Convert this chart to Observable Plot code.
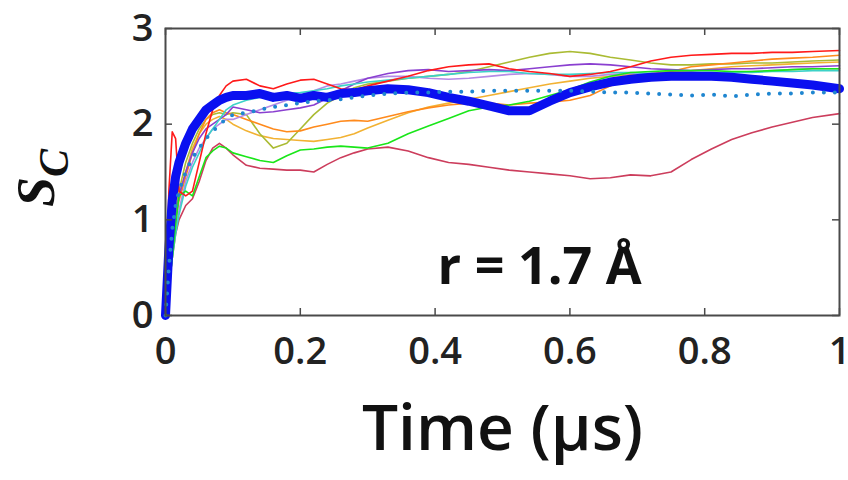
<!DOCTYPE html>
<html><head><meta charset="utf-8">
<script src="https://cdn.jsdelivr.net/npm/d3@7"></script>
<script src="https://cdn.jsdelivr.net/npm/@observablehq/plot@0.6"></script>
<style>body{margin:0;background:#fff;}</style>
</head><body><div id="chart"></div>
<script>
const time = [0,0.005,0.01,0.015,0.02,0.03,0.04,0.05,0.06,0.07,0.08,0.09,0.1,0.12,0.14,0.16,0.18,0.2,0.22,0.24,0.26,0.28,0.3,0.33,0.36,0.39,0.42,0.45,0.48,0.51,0.54,0.57,0.6,0.63,0.66,0.69,0.72,0.75,0.78,0.81,0.84,0.87,0.9,0.93,0.96,1.0];

const redRun      = [0,1.3,1.92,1.85,1.3,1.25,1.3,1.6,1.9,2.15,2.3,2.4,2.45,2.47,2.4,2.37,2.42,2.46,2.47,2.42,2.37,2.36,2.4,2.45,2.5,2.56,2.6,2.62,2.63,2.58,2.55,2.53,2.5,2.52,2.55,2.6,2.66,2.7,2.72,2.73,2.74,2.74,2.75,2.75,2.76,2.77];
const orangeRun   = [0,0.4,0.8,1.0,1.2,1.45,1.7,1.9,2.05,2.12,2.15,2.12,2.1,2.05,2.0,1.95,1.92,1.93,1.97,2.0,2.03,2.04,2.03,2.08,2.13,2.17,2.2,2.22,2.22,2.2,2.22,2.23,2.25,2.3,2.4,2.48,2.52,2.55,2.6,2.62,2.64,2.66,2.68,2.69,2.7,2.72];
const goldRun     = [0,0.4,0.8,1.05,1.25,1.5,1.75,1.9,2.0,2.05,2.08,2.05,2.0,1.93,1.88,1.85,1.84,1.83,1.82,1.84,1.86,1.9,1.96,2.04,2.12,2.18,2.22,2.26,2.3,2.34,2.38,2.42,2.45,2.48,2.5,2.52,2.53,2.55,2.56,2.58,2.6,2.61,2.62,2.63,2.64,2.65];
const oliveRun    = [0,0.4,0.8,1.1,1.3,1.6,1.8,1.95,2.05,2.1,2.12,2.1,2.12,2.1,1.9,1.75,1.8,1.95,2.1,2.22,2.3,2.38,2.42,2.45,2.48,2.5,2.52,2.55,2.6,2.65,2.7,2.74,2.76,2.74,2.7,2.67,2.64,2.62,2.62,2.63,2.63,2.64,2.64,2.65,2.66,2.67];
const greenRun    = [0,0.3,0.6,0.95,1.25,1.3,1.25,1.45,1.65,1.72,1.77,1.75,1.7,1.66,1.62,1.6,1.67,1.73,1.74,1.76,1.77,1.76,1.75,1.8,1.9,1.98,2.06,2.14,2.18,2.2,2.24,2.3,2.36,2.44,2.5,2.54,2.55,2.56,2.56,2.56,2.55,2.55,2.56,2.57,2.58,2.58];
const cyanRun     = [0,0.3,0.6,0.85,1.05,1.35,1.55,1.7,1.85,1.95,2.05,2.15,2.2,2.25,2.28,2.3,2.32,2.33,2.35,2.37,2.4,2.42,2.44,2.46,2.48,2.5,2.52,2.54,2.55,2.55,2.53,2.52,2.52,2.53,2.54,2.54,2.53,2.52,2.52,2.53,2.54,2.54,2.55,2.55,2.56,2.56];
const purpleRun   = [0,0.3,0.7,1.0,1.25,1.5,1.7,1.85,1.95,2.0,2.05,2.1,2.18,2.15,2.12,2.13,2.15,2.17,2.2,2.27,2.35,2.42,2.48,2.53,2.56,2.57,2.55,2.56,2.57,2.56,2.58,2.6,2.62,2.63,2.62,2.6,2.58,2.57,2.56,2.57,2.58,2.58,2.59,2.6,2.6,2.61];
const lavenderRun = [0,0.3,0.6,0.9,1.1,1.4,1.6,1.75,1.85,1.95,2.0,2.05,2.05,2.1,2.15,2.2,2.25,2.3,2.35,2.4,2.42,2.45,2.48,2.5,2.5,2.48,2.47,2.48,2.5,2.52,2.53,2.52,2.5,2.5,2.52,2.53,2.53,2.52,2.52,2.53,2.54,2.55,2.56,2.57,2.58,2.58];
const crimsonRun  = [0,0.3,0.6,0.85,1.0,1.15,1.22,1.4,1.62,1.75,1.8,1.75,1.68,1.57,1.54,1.53,1.52,1.52,1.5,1.58,1.65,1.7,1.74,1.76,1.72,1.65,1.6,1.58,1.55,1.52,1.5,1.48,1.46,1.43,1.44,1.47,1.46,1.5,1.63,1.74,1.84,1.91,1.97,2.02,2.07,2.11];
const meanDotted  = [0,0.5,0.9,1.15,1.3,1.5,1.65,1.75,1.85,1.92,2.0,2.05,2.1,2.12,2.15,2.18,2.2,2.22,2.24,2.25,2.26,2.28,2.3,2.32,2.33,2.33,2.34,2.34,2.35,2.35,2.35,2.35,2.35,2.34,2.33,2.33,2.32,2.31,2.3,2.31,2.29,2.31,2.32,2.32,2.33,2.33];
const blueThick   = [0,0.7,1.2,1.45,1.6,1.8,1.95,2.05,2.15,2.2,2.25,2.28,2.3,2.3,2.32,2.28,2.3,2.27,2.3,2.28,2.32,2.33,2.35,2.37,2.36,2.33,2.28,2.24,2.19,2.14,2.14,2.24,2.33,2.39,2.44,2.47,2.49,2.5,2.5,2.5,2.49,2.47,2.45,2.43,2.41,2.37];

const xTicks = [0,0.2,0.4,0.6,0.8,1];
const yTicks = [0,1,2,3];
const annotation = [{label: "r = 1.7 Å", t: 0.555, s: 0.5}];

const thin = [
  {values: crimsonRun, color: "#cc3d5c"},
  {values: goldRun, color: "#f2b233"},
  {values: oliveRun, color: "#aabb33"},
  {values: orangeRun, color: "#ff8a1c"},
  {values: lavenderRun, color: "#b58ae6"},
  {values: purpleRun, color: "#8a3fd0"},
  {values: cyanRun, color: "#3cd2c8"},
  {values: greenRun, color: "#19e619"},
  {values: redRun, color: "#ff1a1a"}
];
const toRows = v => time.map((t, i) => ({t, s: v[i]}));

const W = 848, H = 480, mL = 165, mR = 9, mT = 28, mB = 165;
const innerW = W - mL - mR, innerH = H - mT - mB;
const tickLen = 7;

const marks = [];
for (const s of thin) {
  marks.push(Plot.line(toRows(s.values), {x: "t", y: "s", stroke: s.color, strokeWidth: 1.6}));
}
marks.push(Plot.line(toRows(blueThick), {x: "t", y: "s", stroke: "#0a10f0", strokeWidth: 9, strokeLinejoin: "round", strokeLinecap: "round"}));
marks.push(Plot.line(toRows(meanDotted), {x: "t", y: "s", stroke: "#1f86d0", strokeWidth: 4, strokeDasharray: "0,11", strokeLinecap: "round"}));
marks.push(Plot.frame({stroke: "#4a4a4a", strokeWidth: 2}));
marks.push(Plot.ruleX(xTicks, {x: d => d, insetTop: innerH - tickLen, stroke: "#4a4a4a", strokeWidth: 1.5}));
marks.push(Plot.ruleX(xTicks, {x: d => d, insetBottom: innerH - tickLen, stroke: "#4a4a4a", strokeWidth: 1.5}));
marks.push(Plot.ruleY(yTicks, {y: d => d, insetRight: innerW - tickLen, stroke: "#4a4a4a", strokeWidth: 1.5}));
marks.push(Plot.ruleY(yTicks, {y: d => d, insetLeft: innerW - tickLen, stroke: "#4a4a4a", strokeWidth: 1.5}));
marks.push(Plot.axisX({ticks: xTicks, tickSize: 0, tickPadding: 22, tickFormat: d => String(+d.toFixed(1)), fontSize: 38, fontWeight: 600, fill: "#222", label: null}));
marks.push(Plot.axisY({ticks: yTicks, tickSize: 0, tickPadding: 12, tickFormat: d => String(d), fontSize: 38, fontWeight: 600, fill: "#222", label: null}));
marks.push(Plot.text(annotation, {x: "t", y: "s", text: "label", fontSize: 52, fontWeight: 700, fill: "#111", textAnchor: "middle"}));
marks.push(Plot.text(["Time (μs)"], {frameAnchor: "bottom", dy: 134, text: d => d, fontSize: 64, fontWeight: 600, fill: "#111"}));

const chart = Plot.plot({
  width: W, height: H,
  marginLeft: mL, marginRight: mR, marginTop: mT, marginBottom: mB,
  x: {domain: [0, 1]},
  y: {domain: [0, 3]},
  style: {fontFamily: "Open Sans", background: "#fff", overflow: "visible"},
  marks
});

const svg = d3.select(chart);
const yl = svg.append("text")
  .attr("transform", `translate(54,178) rotate(-90)`)
  .attr("text-anchor", "middle")
  .attr("fill", "#111")
  .style("font-family", "Liberation Serif")
  .style("font-style", "italic")
  .style("font-weight", "bold")
  .style("font-size", "54px");
yl.append("tspan").text("S");
yl.append("tspan").attr("dy", 14).style("font-size", "42px").text("C");

document.getElementById("chart").appendChild(chart);
</script>
</body></html>
